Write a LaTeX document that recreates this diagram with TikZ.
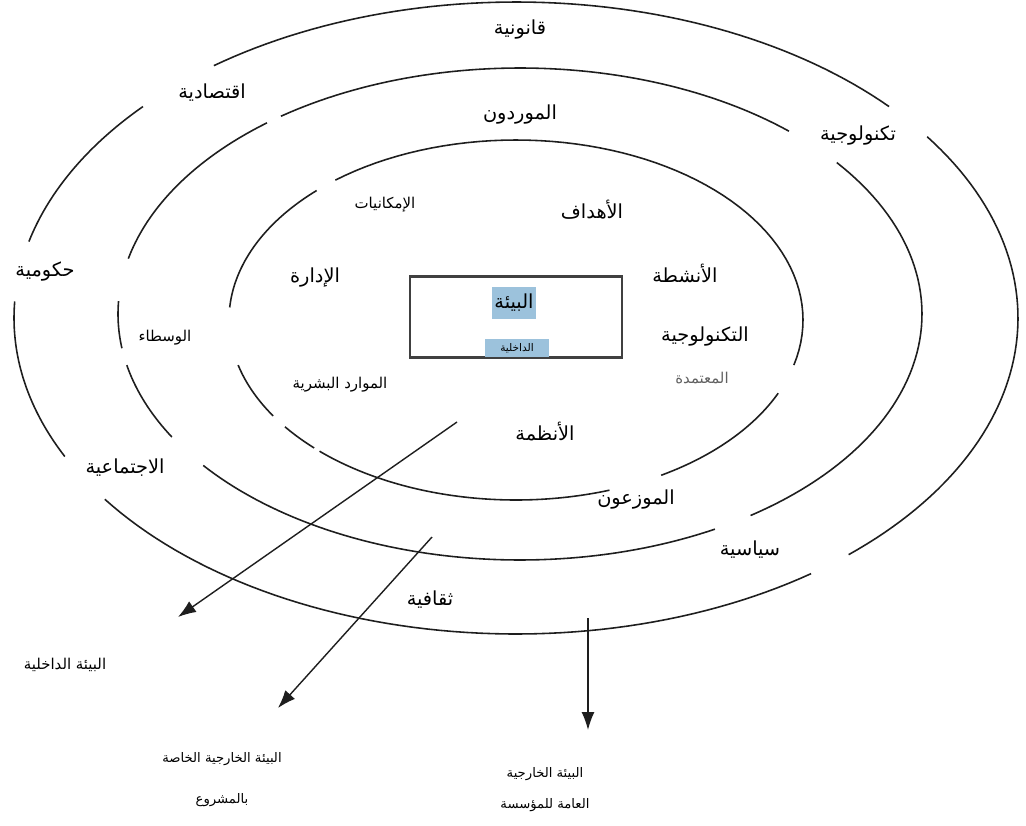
\documentclass[tikz,border=0pt]{standalone}
\usepackage{fontspec}
\usepackage{tikz}
\usetikzlibrary{arrows.meta}
\newfontfamily\arabicfont[Script=Arabic]{DejaVu Sans}
\TeXXeTstate=1
\definecolor{hlblue}{RGB}{156,194,220}
\definecolor{ink}{RGB}{30,30,30}
\newcommand{\arb}[1]{{\arabicfont\beginR #1\endR}}
\newcommand{\ringarc}[6]{\draw[ringline] plot[domain=#5:#6, samples=60] ({#1+#3*cos(\x)},{#2+#4*sin(\x)});}

\begin{document}
\begin{tikzpicture}[x=0.2mm, y=-0.2mm]
  \tikzset{ringline/.style={ink, line width=0.9pt},
    lbl/.style={font=\fontsize{11}{13}\selectfont, inner sep=1pt},
    smalllbl/.style={font=\fontsize{8.5}{12}\selectfont, inner sep=1pt},
    botlbl/.style={font=\fontsize{7.5}{12}\selectfont, inner sep=1pt, align=center},
    envarrow/.style={ink, line width=0.8pt, -{Latex[length=3.6mm, width=2.6mm]}}}
  \useasboundingbox (0,0) rectangle (1026,825);
  \ringarc{516}{318}{502}{316}{233}{318}
  \ringarc{516}{318}{502}{316}{325}{408.5}
  \ringarc{516}{318}{502}{316}{54}{145}
  \ringarc{516}{318}{502}{316}{154}{183}
  \ringarc{516}{318}{502}{316}{194}{222}
  \ringarc{520}{314}{402}{246}{233.5}{312}
  \ringarc{520}{314}{402}{246}{322}{415}
  \ringarc{520}{314}{402}{246}{61}{142}
  \ringarc{520}{314}{402}{246}{150}{168}
  \ringarc{520}{314}{402}{246}{172}{183}
  \ringarc{520}{314}{402}{246}{193}{231}
  \ringarc{516}{320}{287}{180}{231}{374.5}
  \ringarc{516}{320}{287}{180}{24}{59.6}
  \ringarc{516}{320}{287}{180}{71}{133.2}
  \ringarc{516}{320}{287}{180}{134.7}{143.6}
  \ringarc{516}{320}{287}{180}{147.8}{165.5}
  \ringarc{516}{320}{287}{180}{184}{226}
  \node[draw=ink!85, line width=1.4pt, minimum width=212*0.2mm, minimum height=81*0.2mm] (core) at (516,317) {};
  \node[lbl, fill=hlblue, minimum width=44*0.2mm, minimum height=32*0.2mm] (bia) at (514,303) {\arb{البيئة}};
  \node[fill=hlblue, inner sep=1pt, minimum width=64*0.2mm, minimum height=18*0.2mm, font=\fontsize{6}{8}\selectfont] (dakh) at (517,348) {\arb{الداخلية}};
  \node[lbl] (qanun) at (520,30) {\arb{قانونية}};
  \node[lbl] (iqtis) at (212,93) {\arb{اقتصادية}};
  \node[lbl] (mward) at (520,115) {\arb{الموردون}};
  \node[lbl] (tekno) at (858,136) {\arb{تكنولوجية}};
  \node[lbl] (hukum) at (45,272) {\arb{حكومية}};
  \node[smalllbl] (imkan) at (385,205) {\arb{الإمكانيات}};
  \node[lbl] (ahdaf) at (592,210) {\arb{الأهداف}};
  \node[lbl] (anshi) at (685,273) {\arb{الأنشطة}};
  \node[lbl] (idara) at (315,278) {\arb{الإدارة}};
  \node[lbl] (tekin) at (705,337) {\arb{التكنولوجية}};
  \node[smalllbl, ink!70] (mutam) at (702,378) {\arb{المعتمدة}};
  \node[smalllbl] (wusat) at (165,338) {\arb{الوسطاء}};
  \node[smalllbl] (mawar) at (340,385) {\arb{الموارد البشرية}};
  \node[lbl] (anzim) at (545,432) {\arb{الأنظمة}};
  \node[lbl] (ijtim) at (125,468) {\arb{الاجتماعية}};
  \node[lbl] (mwazi) at (636,500) {\arb{الموزعون}};
  \node[lbl] (siyas) at (750,550) {\arb{سياسية}};
  \node[lbl] (thaqa) at (430,600) {\arb{ثقافية}};
  \node[smalllbl] (inenv) at (65,665) {\arb{البيئة الداخلية}};
  \node[botlbl] (prenv) at (222,780) {\arb{البيئة الخارجية الخاصة}\\[4mm]\arb{بالمشروع}};
  \node[botlbl] (genv) at (545,790) {\arb{البيئة الخارجية}\\[2mm]\arb{العامة للمؤسسة}};
  \coordinate (a1) at (457,422);
  \coordinate (b1) at (178,617);
  \coordinate (a2) at (432,537);
  \coordinate (b2) at (278,708);
  \coordinate (a3) at (588,618);
  \coordinate (b3) at (588,730);
  \draw[envarrow] (a1) -- (b1);
  \draw[envarrow] (a2) -- (b2);
  \draw[envarrow] (a3) -- (b3);
\end{tikzpicture}
\end{document}
